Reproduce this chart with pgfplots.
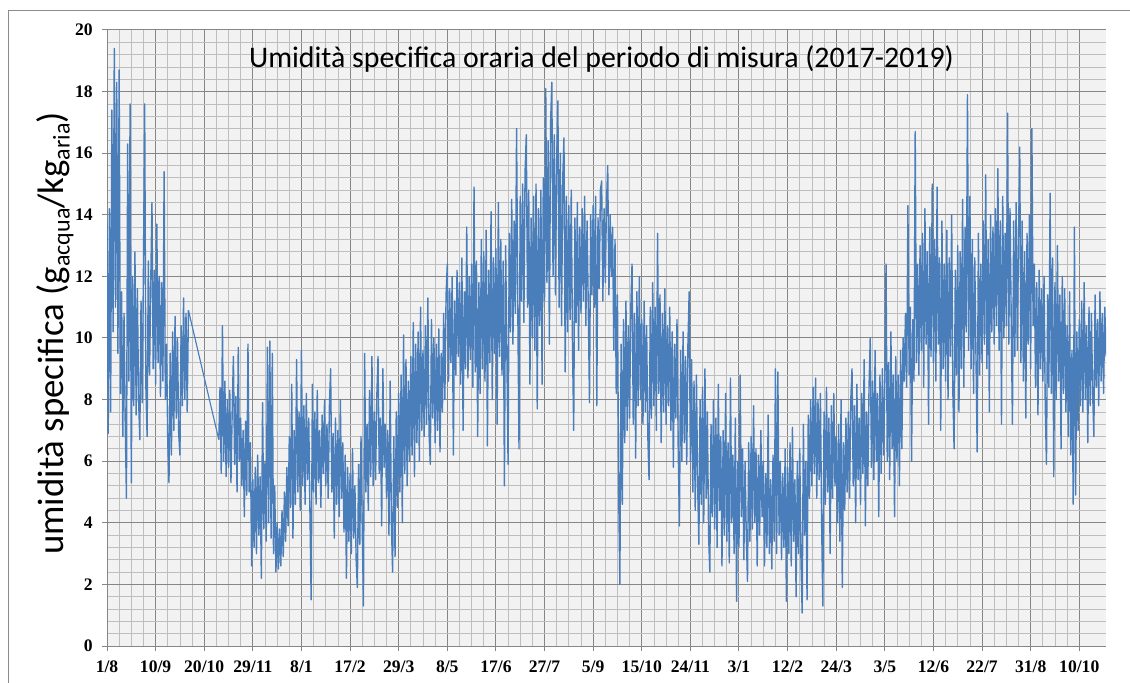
\documentclass[border=0pt]{standalone}
\usepackage{fontspec}
\setmainfont{Carlito}
\newfontfamily\tickfont{Liberation Serif}
\usepackage{pgfplots}
\usepackage{pgfplotstable}
\pgfplotsset{compat=1.18}
\definecolor{series}{RGB}{74,126,187}
\definecolor{majgrid}{RGB}{134,134,134}
\definecolor{mingrid}{RGB}{190,190,190}
\definecolor{plotbg}{RGB}{242,242,242}
\definecolor{framec}{RGB}{140,140,140}

% hourly specific humidity, one reading per day (alternating high / low of the band)
% first stretch: days 0..67 from 1/8/2017
\pgfplotstableread[header=false,row sep=\\]{%
13.8\\6.9\\14.2\\7.6\\17.4\\10.2\\19.4\\11.0\\18.3\\9.5\\%
18.7\\8.2\\11.5\\6.8\\10.8\\7.2\\4.8\\16.3\\8.6\\17.6\\%
5.3\\12.0\\7.8\\12.8\\7.5\\11.6\\8.0\\6.7\\11.2\\7.9\\%
12.3\\17.6\\8.4\\6.8\\12.5\\8.8\\11.8\\14.4\\9.0\\12.2\\%
8.5\\13.7\\9.2\\12.0\\8.1\\11.8\\8.6\\15.4\\8.0\\9.8\\%
6.6\\5.3\\9.5\\6.2\\10.2\\7.0\\10.7\\7.4\\10.0\\6.9\\%
6.2\\10.4\\7.8\\11.3\\8.0\\10.8\\7.6\\10.9\\%
}\segA

% second stretch: days 92..822
\pgfplotstableread[header=false,row sep=\\]{%
6.7\\8.4\\5.6\\10.4\\6.0\\8.6\\5.5\\8.0\\%
5.8\\8.3\\5.3\\7.6\\9.4\\5.9\\8.1\\5.0\\9.7\\6.0\\%
7.4\\5.2\\7.0\\4.2\\7.3\\4.9\\9.8\\5.0\\6.6\\2.6\\%
5.4\\3.2\\5.8\\3.0\\6.2\\3.6\\5.5\\2.2\\7.9\\3.8\\%
6.0\\3.4\\9.7\\4.0\\9.9\\3.5\\9.5\\3.0\\5.2\\2.4\\%
4.0\\2.5\\3.8\\2.6\\4.4\\2.9\\5.0\\3.4\\5.8\\3.9\\%
6.8\\4.5\\8.5\\3.5\\7.0\\4.6\\9.3\\5.0\\7.6\\4.4\\%
9.6\\5.2\\7.8\\4.6\\8.2\\5.4\\7.4\\4.3\\1.5\\8.5\\%
5.0\\7.6\\4.6\\8.3\\5.3\\7.0\\4.5\\7.5\\5.6\\8.0\\%
5.2\\7.2\\4.8\\7.8\\9.0\\5.0\\6.9\\3.5\\7.4\\4.6\\%
7.0\\4.2\\8.0\\4.8\\6.6\\3.7\\6.2\\2.2\\5.8\\3.4\\%
5.6\\3.0\\6.4\\3.5\\5.2\\2.8\\1.9\\5.9\\3.3\\6.8\\%
3.9\\1.3\\9.5\\5.0\\7.2\\4.4\\8.3\\5.5\\9.4\\5.2\\%
7.6\\5.4\\8.1\\9.4\\5.6\\7.4\\3.9\\9.0\\5.8\\7.2\\%
4.8\\7.0\\3.6\\8.6\\4.0\\2.4\\6.8\\2.9\\7.6\\4.5\\%
8.2\\5.0\\8.8\\4.0\\10.1\\5.6\\9.3\\5.2\\8.6\\6.0\\%
9.4\\6.2\\10.5\\5.5\\9.8\\6.6\\10.2\\6.0\\11.0\\7.0\\%
9.6\\6.8\\10.4\\7.2\\11.3\\6.9\\5.9\\10.6\\7.4\\10.0\\%
6.6\\9.8\\7.0\\10.3\\6.3\\9.5\\7.6\\10.8\\8.0\\11.4\\%
12.4\\8.6\\11.6\\9.2\\12.0\\6.2\\11.2\\8.8\\12.2\\9.4\\%
11.8\\8.5\\12.6\\7.0\\11.5\\9.0\\13.6\\8.7\\12.0\\9.3\\%
12.4\\8.4\\14.9\\8.9\\12.5\\6.8\\11.8\\8.2\\13.2\\9.0\\%
12.8\\8.6\\13.5\\6.5\\12.2\\9.2\\14.1\\8.0\\12.6\\9.5\\%
12.9\\7.2\\14.4\\9.4\\13.2\\8.8\\12.5\\5.2\\13.0\\9.6\\%
5.9\\13.4\\10.2\\14.5\\9.8\\13.8\\10.8\\16.8\\11.0\\6.4\\%
14.6\\11.2\\15.0\\10.5\\15.4\\16.6\\11.0\\14.8\\8.5\\13.9\\%
10.0\\14.6\\9.6\\15.0\\7.7\\14.2\\10.4\\14.8\\8.5\\15.2\\%
11.2\\18.1\\11.8\\16.4\\9.8\\17.0\\18.3\\12.0\\16.6\\11.4\\%
15.8\\17.7\\11.0\\16.0\\10.4\\15.2\\16.5\\8.9\\14.6\\10.2\\%
14.3\\10.6\\14.8\\9.8\\7.0\\13.9\\10.5\\14.4\\9.6\\13.6\\%
10.8\\14.2\\11.2\\14.6\\10.4\\13.8\\11.0\\7.9\\14.0\\11.4\\%
14.3\\11.0\\14.6\\7.8\\13.9\\11.6\\14.8\\15.1\\11.2\\14.2\\%
11.8\\14.4\\15.6\\11.4\\14.0\\12.0\\13.6\\9.6\\13.2\\8.2\\%
11.4\\5.0\\2.0\\9.8\\4.6\\10.6\\6.6\\11.2\\7.0\\10.4\\%
7.4\\11.0\\12.4\\7.2\\10.8\\6.1\\11.5\\7.8\\12.0\\8.0\\%
10.6\\7.2\\11.2\\7.6\\10.4\\6.8\\5.4\\11.0\\7.4\\11.8\\%
7.8\\11.0\\7.0\\13.4\\8.2\\11.4\\6.6\\10.8\\7.6\\11.6\\%
7.2\\10.4\\7.8\\11.0\\7.0\\10.2\\5.8\\9.8\\7.4\\10.6\\%
6.4\\3.9\\9.6\\6.0\\10.2\\6.6\\9.4\\5.9\\9.8\\11.5\\%
6.0\\9.3\\5.0\\8.6\\4.4\\8.8\\5.2\\3.3\\8.0\\4.6\\%
8.4\\4.0\\9.0\\4.8\\7.6\\3.6\\2.4\\7.2\\4.2\\8.0\\%
3.8\\7.4\\3.2\\8.5\\4.4\\6.8\\2.6\\7.0\\3.6\\8.2\\%
3.4\\6.6\\2.7\\8.7\\4.0\\6.2\\3.0\\7.4\\1.45\\6.0\\%
3.2\\8.8\\4.2\\6.4\\2.8\\6.0\\3.6\\2.1\\6.6\\3.4\\%
6.8\\3.8\\7.8\\4.0\\6.4\\2.6\\6.2\\3.6\\7.0\\4.2\\%
6.0\\2.6\\5.6\\3.2\\7.5\\3.0\\5.4\\2.5\\6.2\\3.4\\%
9.0\\3.0\\8.9\\3.6\\6.0\\2.8\\5.6\\3.2\\6.4\\1.45\\%
5.8\\3.0\\6.6\\2.6\\7.1\\3.4\\5.4\\1.6\\6.0\\3.0\\%
6.4\\2.8\\1.07\\7.2\\3.6\\6.0\\1.5\\7.5\\4.8\\8.0\\%
5.2\\8.4\\5.6\\8.7\\4.8\\8.0\\5.4\\8.2\\4.0\\1.3\\%
7.6\\4.6\\8.4\\5.0\\7.4\\3.0\\7.8\\4.8\\8.2\\5.2\\%
6.8\\4.0\\7.2\\3.4\\8.0\\1.9\\6.6\\4.4\\7.4\\5.0\\%
7.6\\4.8\\8.0\\9.0\\5.2\\7.8\\4.0\\8.5\\5.4\\7.4\\%
4.6\\8.2\\5.6\\9.3\\3.9\\7.6\\5.2\\8.4\\10.0\\5.8\\%
8.6\\5.4\\9.6\\6.0\\8.2\\4.2\\8.8\\5.6\\9.0\\6.2\\%
8.6\\12.4\\6.0\\9.2\\5.4\\10.2\\6.4\\8.8\\4.2\\9.4\\%
6.0\\8.8\\5.2\\9.6\\6.4\\10.0\\8.6\\10.8\\8.4\\14.3\\%
8.8\\11.0\\6.0\\10.6\\8.6\\16.7\\9.2\\12.4\\8.8\\13.0\\%
9.6\\13.4\\8.4\\14.2\\9.8\\12.8\\7.2\\13.6\\9.4\\15.0\\%
9.2\\13.2\\8.6\\14.9\\9.8\\12.6\\7.0\\13.8\\9.0\\12.4\\%
8.6\\13.5\\8.0\\12.6\\9.4\\14.0\\8.2\\6.4\\12.2\\8.8\\%
13.0\\7.6\\12.8\\9.0\\14.5\\8.4\\13.6\\10.2\\17.9\\9.6\\%
14.6\\9.0\\13.2\\8.2\\12.6\\9.4\\6.3\\13.4\\8.8\\12.4\\%
9.2\\13.8\\9.8\\15.3\\9.0\\13.2\\7.6\\14.0\\10.2\\13.6\\%
9.8\\14.2\\10.4\\15.5\\9.6\\13.8\\7.2\\14.6\\10.0\\13.4\\%
10.4\\17.3\\9.8\\14.2\\10.6\\7.2\\13.8\\9.4\\14.4\\9.6\\%
13.2\\16.2\\9.2\\13.8\\8.6\\12.8\\7.4\\13.4\\9.8\\14.0\\%
9.0\\16.8\\10.4\\12.4\\8.4\\11.8\\7.5\\12.2\\9.0\\11.6\\%
8.6\\12.0\\7.8\\5.9\\11.4\\8.4\\14.7\\8.2\\12.6\\5.5\\%
11.8\\8.0\\13.0\\8.6\\11.4\\6.4\\12.0\\8.2\\11.6\\7.6\\%
10.4\\6.8\\11.5\\6.2\\9.6\\4.6\\13.6\\4.9\\10.2\\7.0\\%
10.6\\7.8\\11.2\\7.6\\11.8\\8.0\\10.4\\6.6\\11.0\\7.8\\%
10.8\\8.2\\6.8\\11.4\\8.4\\10.6\\7.8\\11.5\\8.6\\10.8\\8.2\\11.0\\9.4\\%
}\segB

\begin{document}
\begin{tikzpicture}[x=1pt,y=1pt]
\useasboundingbox (0,0) rectangle (847.5,511.5);
\fill[white] (0,0) rectangle (847.5,511.5);
\draw[framec, line width=0.75pt] (6,-20) -- (6,503.25) -- (870,503.25);
\begin{axis}[
  at={(80.25pt,27pt)}, anchor=south west,
  scale only axis, width=749.25pt, height=462pt,
  xmin=0, xmax=822, ymin=0, ymax=20,
  axis background/.style={fill=plotbg},
  xtick={0,40,...,800},
  xticklabels={1/8,10/9,20/10,29/11,8/1,17/2,29/3,8/5,17/6,27/7,5/9,15/10,24/11,3/1,12/2,24/3,3/5,12/6,22/7,31/8,10/10},
  ytick={0,2,...,20},
  minor x tick num=3, minor y tick num=4,
  grid=both,
  major grid style={majgrid, line width=0.75pt},
  minor grid style={mingrid, line width=0.6pt},
  axis x line*=bottom, axis y line*=left,
  axis line style={majgrid, line width=0.75pt, -},
  tick align=outside,
  major tick length=3.75pt, minor tick length=0pt,
  tick style={majgrid, line width=0.75pt},
  ticklabel style={font=\tickfont\bfseries\fontsize{13.2}{14}\selectfont, black},
  xticklabel style={yshift=-4pt},
  yticklabel style={xshift=-3.5pt},
  /pgf/number format/assume math mode=true,
  clip=true,
]
\addplot[series, line width=1.05pt, line join=round] table[x expr=\coordindex, y index=0] {\segA};
\addplot[series, line width=0.85pt] coordinates {(67,10.9) (92,6.7)};
\addplot[series, line width=1.05pt, line join=round] table[x expr=\coordindex+92, y index=0] {\segB};
\end{axis}
\node[anchor=base, font=\fontsize{22.4}{26}\selectfont] at (451.1,460.5) {Umidità specifica oraria del periodo di misura (2017-2019)};
\node[rotate=90, anchor=base, font=\fontsize{27.6}{30}\selectfont] at (47.25,261.4) {umidità specifica (g\raisebox{-5pt}{\fontsize{18}{20}\selectfont acqua}/kg\raisebox{-5pt}{\fontsize{18}{20}\selectfont aria})};
\end{tikzpicture}
\end{document}
